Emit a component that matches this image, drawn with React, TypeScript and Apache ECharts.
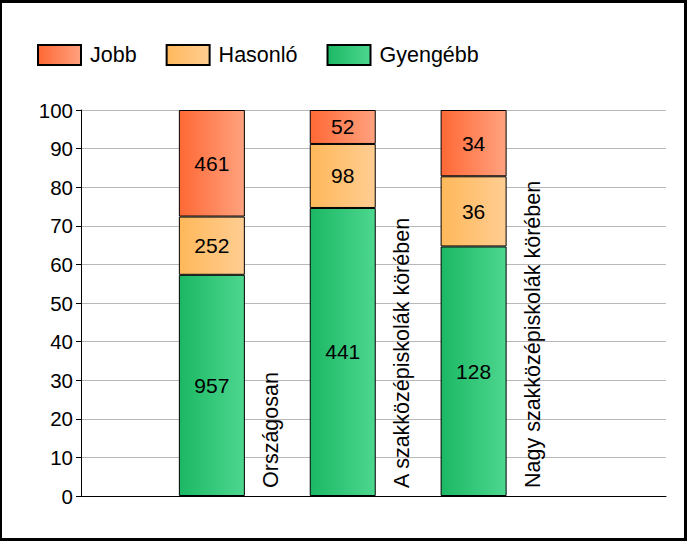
import { useEffect, useRef } from "react";
import * as echarts from "echarts";

const categories = ["Országosan", "A szakközépiskolák körében", "Nagy szakközépiskolák körében"];
const gyengebb = [957, 441, 128];
const hasonlo = [252, 98, 36];
const jobb = [461, 52, 34];
const yTicks = [0, 100, 10]; // min, max, interval

const totals = categories.map((_, i) => gyengebb[i] + hasonlo[i] + jobb[i]);
// [percent, position] so that the percent is the stacked dimension
const pct = (arr: number[]) => arr.map((v, i) => [(v / totals[i]) * 100, i + 1]);

const grad = (a: string, b: string) =>
  new echarts.graphic.LinearGradient(0, 0, 1, 0, [
    { offset: 0, color: a },
    { offset: 1, color: b },
  ]);

const FONT = "'Liberation Sans', Arial, sans-serif";

function barSeries(name: string, counts: number[], color: any) {
  return {
    name,
    type: "bar",
    stack: "total",
    barWidth: 66,
    encode: { x: 1, y: 0 },
    data: pct(counts),
    itemStyle: { color, borderColor: "#000", borderWidth: 1 },
    label: {
      show: true,
      position: "inside",
      color: "#000",
      fontSize: 21,
      fontFamily: FONT,
      formatter: (p: any) => String(counts[p.dataIndex]),
    },
  };
}

function Chart() {
  const chartRef = useRef<HTMLDivElement>(null);

  useEffect(() => {
    const chart = echarts.init(chartRef.current, undefined, { renderer: "svg" });
    chart.setOption({
      animation: false,
      backgroundColor: "#fff",
      textStyle: { fontFamily: FONT },
      legend: {
        data: ["Jobb", "Hasonló", "Gyengébb"],
        left: 37,
        top: 44,
        padding: 0,
        itemWidth: 43,
        itemHeight: 20,
        itemGap: 29,
        icon: "rect",
        textStyle: { fontSize: 21.5, color: "#000", fontFamily: FONT, padding: [0, 0, 0, 4] },
      },
      grid: { left: 81, right: 21, top: 110, bottom: 45 },
      xAxis: {
        type: "value",
        min: 0,
        max: 4.47,
        axisLine: { show: true, lineStyle: { color: "#000", width: 1 } },
        axisTick: { show: false },
        axisLabel: { show: false },
        splitLine: { show: false },
      },
      yAxis: {
        type: "value",
        min: yTicks[0],
        max: yTicks[1],
        interval: yTicks[2],
        axisLine: { show: true, lineStyle: { color: "#000" } },
        axisTick: { show: true, length: 5, lineStyle: { color: "#000" } },
        axisLabel: { fontSize: 20.5, color: "#000", fontFamily: FONT, margin: 8 },
        splitLine: { lineStyle: { color: "#b8b8b8" } },
      },
      series: [
        barSeries("Gyengébb", gyengebb, grad("#1bb864", "#4dd78f")),
        barSeries("Hasonló", hasonlo, grad("#ffb85a", "#ffcd92")),
        barSeries("Jobb", jobb, grad("#ff6835", "#ffa27f")),
        {
          name: "labels",
          type: "scatter",
          symbolSize: 0,
          silent: true,
          z: 10,
          itemStyle: { opacity: 1 },
          data: categories.map((_, i) => [i + 1, 0]),
          label: {
            show: true,
            position: "inside",
            rotate: 90,
            align: "left",
            verticalAlign: "middle",
            offset: [8, 59],
            color: "#000",
            opacity: 1,
            fontSize: 21.5,
            fontFamily: FONT,
            formatter: (p: any) => categories[p.dataIndex],
          },
        },
      ],
    });
    return () => chart.dispose();
  }, []);

  return (
    <div style={{ position: "fixed", left: 0, top: 0, width: 687, height: 541 }}>
      <div ref={chartRef} style={{ position: "absolute", left: 0, top: 0, width: 687, height: 541 }} />
      <div
        style={{
          position: "absolute",
          inset: 0,
          boxSizing: "border-box",
          borderStyle: "solid",
          borderColor: "#000",
          borderWidth: "3px 3px 3px 2px",
          pointerEvents: "none",
        }}
      />
    </div>
  );
}

export default function App() {
  return <Chart />;
}
